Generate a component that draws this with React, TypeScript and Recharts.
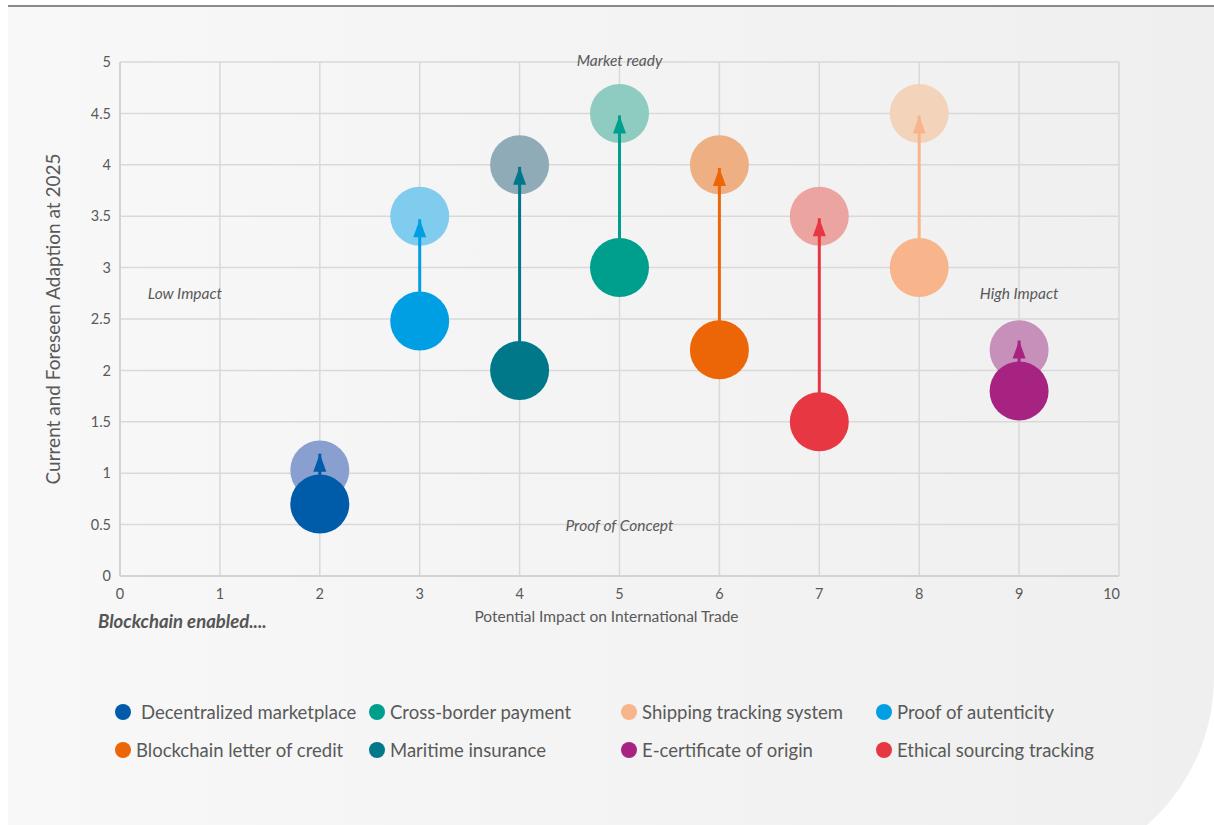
import React from 'react';
import { ScatterChart, Scatter, XAxis, YAxis, CartesianGrid } from 'recharts';

// one entry per use case, same order in every array
const categories = [
    'Decentralized marketplace',
    'Proof of autenticity',
    'Maritime insurance',
    'Cross-border payment',
    'Blockchain letter of credit',
    'Ethical sourcing tracking',
    'Shipping tracking system',
    'E-certificate of origin',
];
const impact = [2, 3, 4, 5, 6, 7, 8, 9];
const currentAdoption = [0.7, 2.48, 2.0, 3.0, 2.2, 1.5, 3.0, 1.8];
const foreseenAdoption = [1.03, 3.5, 4.0, 4.5, 4.0, 3.5, 4.5, 2.2];
// where the arrow tips end (not always the bubble centre)
const arrowTip = [1.19, 3.47, 3.98, 4.48, 3.97, 3.48, 4.48, 2.29];
const mainColors = ['#005ca9', '#009fe3', '#00788a', '#009e8d', '#ec6608', '#e63743', '#f8b58b', '#a72381'];
const fadedColors = ['#899fcf', '#80ccef', '#8fabb8', '#8ecbc1', '#eeaf82', '#eba49f', '#f3d4bb', '#c790bb'];

const xTicks = [0, 1, 2, 3, 4, 5, 6, 7, 8, 9, 10];
const yTicks = [0, 0.5, 1, 1.5, 2, 2.5, 3, 3.5, 4, 4.5, 5];

const notes = [
    { x: 5, y: 5, text: 'Market ready' },
    { x: 0.65, y: 2.75, text: 'Low Impact' },
    { x: 9, y: 2.75, text: 'High Impact' },
    { x: 5, y: 0.5, text: 'Proof of Concept' },
];

// legend layout as in the picture (indexes into categories)
const legendRows = [
    [0, 3, 6, 1],
    [4, 2, 7, 5],
];

const R = 29.5;
const textColor = '#595959';

const bubble = (fill: string) => (props: any) => (
    <circle cx={props.cx} cy={props.cy} r={R} fill={fill} />
);

const arrowHead = (fill: string) => (props: any) => {
    if (!props.payload.tip) return <g />;
    const { cx, cy } = props;
    return <polygon points={`${cx},${cy} ${cx - 6.5},${cy + 18} ${cx + 6.5},${cy + 18}`} fill={fill} />;
};

const noteShape = (props: any) => (
    <text
        x={props.cx}
        y={props.cy}
        dy={props.payload.y === 5 ? -2 : 0}
        textAnchor="middle"
        dominantBaseline="central"
        fontStyle="italic"
        fontSize={15.5}
        fill={textColor}
    >
        {props.payload.text}
    </text>
);

// last x label sits inside the plot edge like in the original
const XTick = (props: any) => {
    const { x, y, payload } = props;
    const last = payload.value === xTicks[xTicks.length - 1];
    return (
        <text x={last ? x + 1 : x} y={y + 15} textAnchor={last ? 'end' : 'middle'} fill={textColor} fontSize={14.5}>
            {payload.value}
        </text>
    );
};

const App: React.FC = () => {
    return (
        <div style={{
            position: 'absolute',
            left: 8,
            top: 0,
            width: 1206,
            height: 825,
            overflow: 'hidden',
            fontFamily: 'Lato, sans-serif'
        }}>
            <div style={{ position: 'absolute', left: 0, top: 5, width: 1206, height: 2, background: '#8a8a8a' }} />
            <div style={{
                position: 'absolute',
                left: 0,
                top: 7,
                width: 1206,
                height: 867,
                background: 'linear-gradient(to right, #f8f8f8, #efefef)',
                borderBottomRightRadius: 197
            }} />
            <div style={{ position: 'absolute', left: 0, top: 0 }}>
                <ScatterChart width={1206} height={640} margin={{ top: 62, right: 95, bottom: 14, left: 52 }}>
                    <CartesianGrid stroke="#d9d9d9" strokeWidth={1.5} />
                    <XAxis
                        type="number"
                        dataKey="x"
                        domain={[0, 10]}
                        ticks={xTicks}
                        interval={0}
                        tickLine={false}
                        axisLine={{ stroke: '#d3d3d3', strokeWidth: 2 }}
                        tick={<XTick />}
                        height={50}
                        label={{
                            value: 'Potential Impact on International Trade',
                            position: 'insideBottom',
                            offset: 4,
                            dx: -13,
                            fill: textColor,
                            fontSize: 15.5
                        }}
                    />
                    <YAxis
                        type="number"
                        dataKey="y"
                        domain={[0, 5]}
                        ticks={yTicks}
                        interval={0}
                        tickLine={false}
                        tickMargin={3}
                        axisLine={{ stroke: '#d3d3d3', strokeWidth: 2 }}
                        tick={{ fill: textColor, fontSize: 14.5 }}
                        width={60}
                        label={{
                            value: 'Current and Foreseen Adaption at 2025',
                            angle: -90,
                            position: 'insideLeft',
                            offset: -7,
                            fill: textColor,
                            fontSize: 19,
                            style: { textAnchor: 'middle' }
                        }}
                    />
                    {categories.map((name, i) => (
                        <Scatter
                            key={'f' + name}
                            data={[{ x: impact[i], y: foreseenAdoption[i] }]}
                            shape={bubble(fadedColors[i])}
                            isAnimationActive={false}
                        />
                    ))}
                    {categories.map((name, i) => (
                        <Scatter
                            key={'a' + name}
                            data={[
                                { x: impact[i], y: currentAdoption[i] },
                                { x: impact[i], y: arrowTip[i], tip: true }
                            ]}
                            line={{ stroke: mainColors[i], strokeWidth: 3 }}
                            shape={arrowHead(mainColors[i])}
                            isAnimationActive={false}
                        />
                    ))}
                    {categories.map((name, i) => (
                        <Scatter
                            key={'c' + name}
                            name={name}
                            data={[{ x: impact[i], y: currentAdoption[i] }]}
                            shape={bubble(mainColors[i])}
                            isAnimationActive={false}
                        />
                    ))}
                    <Scatter data={notes} shape={noteShape} isAnimationActive={false} />
                </ScatterChart>
            </div>
            <div style={{
                position: 'absolute',
                left: 90,
                top: 610,
                fontSize: 18.5,
                fontWeight: 700,
                fontStyle: 'italic',
                color: '#555'
            }}>
                Blockchain enabled....
            </div>
            {legendRows.map((row, r) => (
                <div key={r} style={{
                    position: 'absolute',
                    left: 107,
                    top: 700 + r * 38,
                    display: 'grid',
                    gridTemplateColumns: '254px 252px 255px 260px',
                    fontSize: 18.5,
                    color: textColor,
                    lineHeight: '24px'
                }}>
                    {row.map((idx) => (
                        <div key={idx} style={{ display: 'flex', alignItems: 'center', whiteSpace: 'nowrap' }}>
                            <span style={{
                                width: 16,
                                height: 16,
                                borderRadius: 8,
                                background: mainColors[idx],
                                marginRight: idx === 0 ? 10 : 5,
                                flexShrink: 0
                            }} />
                            {categories[idx]}
                        </div>
                    ))}
                </div>
            ))}
        </div>
    );
};

export default App;
